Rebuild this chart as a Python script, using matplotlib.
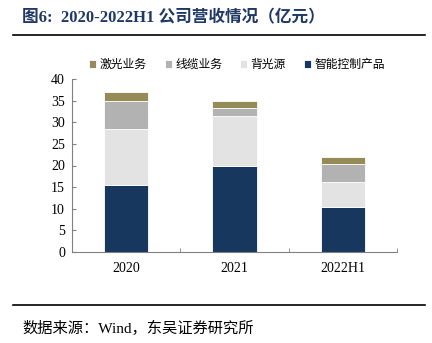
import matplotlib.pyplot as plt
import numpy as np

# ---------------------------------------------------------------------------
# Donnees : chiffre d'affaires par activite (unite : 100 M RMB)
# ---------------------------------------------------------------------------
periods = ["2020", "2021", "2022H1"]
smart_ctrl = [15.4, 20.0, 10.3]   # 智能控制产品
backlight = [13.1, 11.5, 5.9]     # 背光源
cable = [6.4, 1.8, 4.1]           # 线缆业务
laser = [2.1, 1.6, 1.6]           # 激光业务

series = [
    ("智能控制产品", smart_ctrl, "#17375e"),
    ("背光源", backlight, "#e3e3e3"),
    ("线缆业务", cable, "#b2b2b2"),
    ("激光业务", laser, "#958b56"),
]

FONTS = ["Liberation Serif", "Noto Sans CJK SC", "DejaVu Sans"]
plt.rcParams["font.family"] = FONTS

fig = plt.figure(figsize=(4.32, 3.43), dpi=100)
ax = fig.add_axes([72 / 432, 1 - 252 / 343, 325 / 432, 173 / 343])

x = np.arange(len(periods))
bottom = np.zeros(len(periods))
handles = {}
for name, vals, color in series:
    b = ax.bar(x, vals, width=0.41, bottom=bottom, color=color,
               edgecolor="white", linewidth=0.6, label=name)
    handles[name] = b
    bottom += np.array(vals)

ax.set_xlim(-0.5, 2.5)
ax.set_ylim(0, 40)
ax.set_yticks(range(0, 41, 5))
ax.set_xticks(x)
ax.set_xticklabels(periods, fontsize=10)
ax.tick_params(axis="x", length=0, pad=7)
ax.set_xticks([0.5, 1.5, 2.5], minor=True)
ax.tick_params(axis="x", which="minor", direction="in", length=3, color="#808080")
ax.tick_params(axis="y", direction="in", length=3, color="#808080", labelsize=10, pad=5)

for s in ["top", "right"]:
    ax.spines[s].set_visible(False)
for s in ["left", "bottom"]:
    ax.spines[s].set_color("#808080")
    ax.spines[s].set_linewidth(0.8)

# legende en haut, ordre inverse de l'empilement
order = ["激光业务", "线缆业务", "背光源", "智能控制产品"]
fig.legend([handles[n] for n in order], order, loc="center",
           bbox_to_anchor=(237 / 432, 1 - 65 / 343), ncol=4, frameon=False,
           handlelength=0.6, handleheight=0.6, handletextpad=0.3,
           columnspacing=1.5, prop={"family": FONTS, "size": 8.5})

# titre + filets
fig.text(22 / 432, 1 - 18 / 343, "图6:  2020-2022H1 公司营收情况（亿元）",
         fontsize=12, fontweight="bold", color="#1f3864", va="center",
         family=FONTS)
fig.add_artist(plt.Line2D([13 / 432, 425 / 432], [1 - 35 / 343, 1 - 35 / 343],
                          color="black", linewidth=1.2))
fig.add_artist(plt.Line2D([13 / 432, 425 / 432], [1 - 305 / 343, 1 - 305 / 343],
                          color="black", linewidth=1.2))
fig.text(22 / 432, 1 - 328 / 343, "数据来源：Wind，东吴证券研究所",
         fontsize=11, color="black", va="center", family=FONTS)

fig.savefig("out.png", dpi=100)
